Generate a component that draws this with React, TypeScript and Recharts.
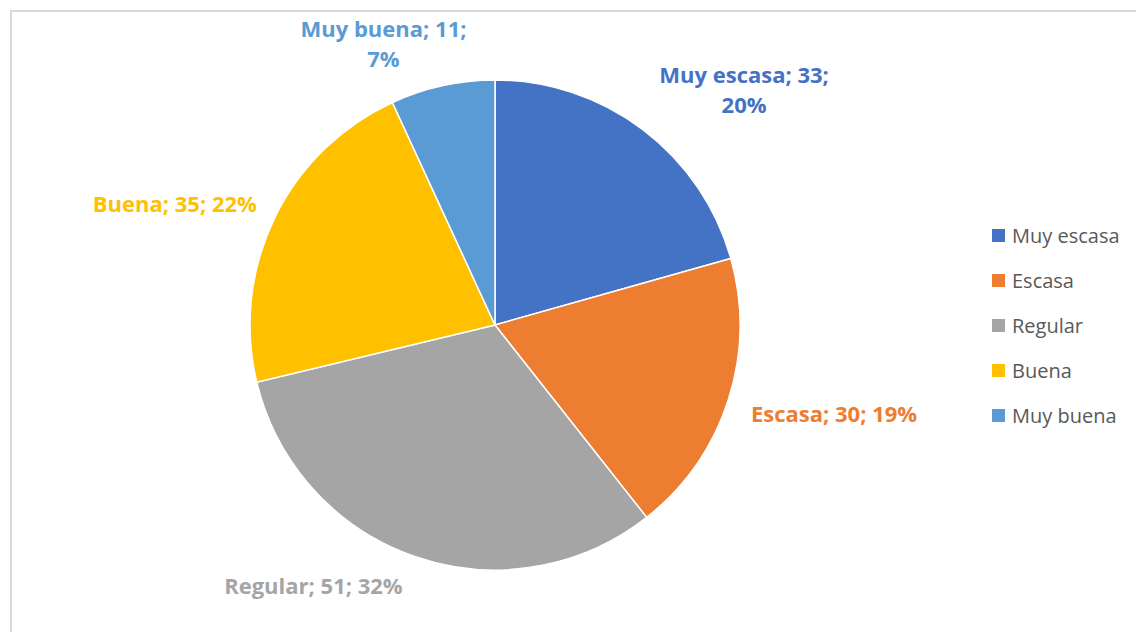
import { PieChart, Pie, Cell, Legend } from "recharts";

const categories = ["Muy escasa", "Escasa", "Regular", "Buena", "Muy buena"];
const counts = [33, 30, 51, 35, 11];
const percents = ["20%", "19%", "32%", "22%", "7%"];
const colors = ["#4472C4", "#ED7D31", "#A5A5A5", "#FFC000", "#5B9BD5"];

// labels that Excel wraps onto two lines
const wrapped = [true, false, false, false, true];

const data = categories.map((name, i) => ({
  name,
  value: counts[i],
  pct: percents[i],
  color: colors[i],
  wrap: wrapped[i],
}));

const FONT = "'Open Sans', Lato, sans-serif";
const RAD = Math.PI / 180;
const clamp = (v: number) => Math.max(-1, Math.min(1, v));

const renderLabel = (props: any) => {
  const { cx, cy, outerRadius, midAngle, index } = props;
  const d = data[index];
  const lines = d.wrap
    ? [`${d.name}; ${d.value};`, d.pct]
    : [`${d.name}; ${d.value}; ${d.pct}`];
  const lineH = 30;
  const longest = Math.max(...lines.map((l) => l.length));
  const w = longest * 11.3;
  const h = lines.length * lineH;
  const sin = Math.cos(midAngle * RAD); // x direction
  const cos = Math.sin(midAngle * RAD); // up direction
  const r = outerRadius + 14;
  const ax = cx + r * sin;
  const ay = cy - r * cos;
  // push the box outside the pie, like Excel's "outside end"
  const x = ax + (w / 2 + 8) * clamp(sin * 3);
  const yc = ay - (h / 2) * clamp(cos * 1.5) + 3;
  const y0 = yc - h / 2 + lineH * 0.72;
  return (
    <text
      x={x}
      y={y0}
      textAnchor="middle"
      fill={d.color}
      fontFamily={FONT}
      fontWeight="bold"
      fontSize={22}
    >
      {lines.map((l, i) => (
        <tspan key={i} x={x} y={y0 + i * lineH}>
          {l}
        </tspan>
      ))}
    </text>
  );
};

const renderLegend = () => (
  <div style={{ fontFamily: FONT, fontSize: 20, color: "#595959" }}>
    {data.map((d, i) => (
      <div
        key={i}
        style={{ display: "flex", alignItems: "center", height: 45 }}
      >
        <div
          style={{
            width: 13,
            height: 13,
            backgroundColor: d.color,
            marginRight: 7,
          }}
        />
        <span>{d.name}</span>
      </div>
    ))}
  </div>
);

export default function App() {
  return (
    <div
      style={{
        position: "absolute",
        left: 0,
        top: 0,
        width: 1136,
        height: 632,
        background: "#fff",
        overflow: "hidden",
      }}
    >
      <div
        style={{
          position: "absolute",
          left: 10,
          top: 10,
          width: 1160,
          height: 660,
          border: "2px solid #d9d9d9",
        }}
      />
      <div style={{ position: "absolute", left: 0, top: 0 }}>
        <PieChart
          width={1136}
          height={632}
          margin={{ top: 0, right: 0, bottom: 0, left: 0 }}
        >
          <Pie
            data={data}
            dataKey="value"
            nameKey="name"
            cx={495}
            cy={325}
            outerRadius={245}
            startAngle={90}
            endAngle={-270}
            stroke="#fff"
            strokeWidth={1.5}
            label={renderLabel}
            labelLine={false}
            isAnimationActive={false}
          >
            {data.map((d, i) => (
              <Cell key={`cell-${i}`} fill={d.color} />
            ))}
          </Pie>
          <Legend
            layout="vertical"
            align="right"
            verticalAlign="top"
            wrapperStyle={{ left: 992, top: 213, width: 144 }}
            content={renderLegend}
          />
        </PieChart>
      </div>
    </div>
  );
}
